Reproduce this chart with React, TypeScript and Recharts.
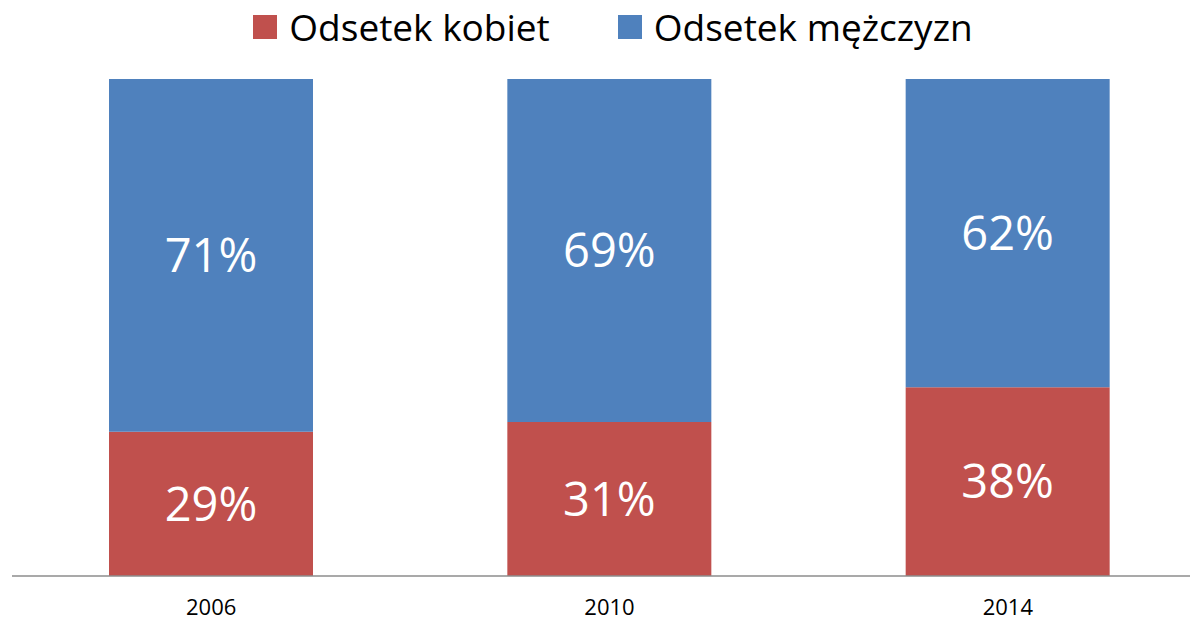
import React from 'react';
import { BarChart, Bar, XAxis, YAxis, Legend, LabelList } from 'recharts';

const years = ['2006', '2010', '2014'];
const women = [29, 31, 38];
const men = [71, 69, 62];

const RED = '#C0504D';
const BLUE = '#4F81BD';
const FONT = '"Open Sans", sans-serif';

const data = years.map((year, i) => ({ year, women: women[i], men: men[i] }));

const renderLegend = (props: any) => {
  const { payload } = props;
  return (
    <div style={{ display: 'flex', justifyContent: 'center', alignItems: 'center', fontFamily: FONT, paddingLeft: 36 }}>
      {payload.map((entry: any, i: number) => (
        <div key={i} style={{ display: 'flex', alignItems: 'center', marginRight: i === 0 ? 68 : 0 }}>
          <div style={{ width: 24, height: 24, background: entry.color, marginRight: 12 }} />
          <span style={{ fontSize: 37, color: '#000', lineHeight: '52px' }}>{entry.value}</span>
        </div>
      ))}
    </div>
  );
};

export default function App() {
  return (
    <div style={{ position: 'absolute', left: 0, top: 0, width: 1190, height: 620, overflow: 'hidden', background: '#fff' }}>
      <BarChart
        width={1210}
        height={620}
        data={data}
        margin={{ top: 27, right: 3, bottom: 0, left: 12 }}
      >
        <Legend
          verticalAlign="top"
          align="center"
          wrapperStyle={{ top: 1, left: 0, width: 1190 }}
          content={renderLegend}
        />
        <XAxis
          dataKey="year"
          height={44}
          tickLine={false}
          axisLine={{ stroke: '#8c8c8c', strokeWidth: 1.5 }}
          tick={{ fill: '#000', fontSize: 22, fontFamily: FONT }}
          tickMargin={17}
        />
        <YAxis hide domain={[0, 100]} />
        <Bar dataKey="women" name="Odsetek kobiet" stackId="a" fill={RED} barSize={204} isAnimationActive={false}>
          <LabelList
            dataKey="women"
            position="center"
            formatter={(v: any) => `${v}%`}
            style={{ fill: '#fff', fontSize: 47, fontFamily: FONT }}
          />
        </Bar>
        <Bar dataKey="men" name="Odsetek mężczyzn" stackId="a" fill={BLUE} barSize={204} isAnimationActive={false}>
          <LabelList
            dataKey="men"
            position="center"
            formatter={(v: any) => `${v}%`}
            style={{ fill: '#fff', fontSize: 47, fontFamily: FONT }}
          />
        </Bar>
      </BarChart>
    </div>
  );
}
